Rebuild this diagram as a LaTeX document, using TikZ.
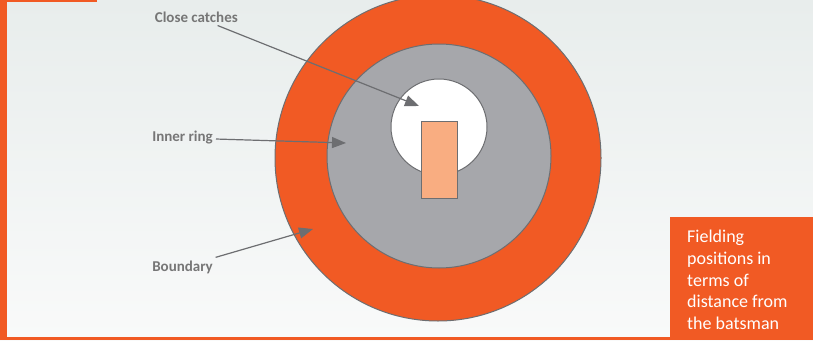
\documentclass[tikz,border=0pt]{standalone}
\usepackage{fontspec}
\usepackage{tikz}
\usetikzlibrary{arrows.meta,positioning}
\newfontfamily\fpfont{Carlito}
\definecolor{fporange}{HTML}{F15A24}
\definecolor{fpring}{HTML}{A6A7AB}
\definecolor{fpline}{HTML}{6D6E71}
\definecolor{fptext}{HTML}{767676}
\definecolor{fppitch}{HTML}{F9AD81}
\definecolor{fpbgtop}{HTML}{E8EDEC}
\definecolor{fpbgbot}{HTML}{F9FAFA}

\begin{document}
\begin{tikzpicture}[x=1pt,y=-1pt,
    fplabel/.style={font=\fpfont\bfseries\fontsize{15}{18}\selectfont,text=fptext,inner sep=3pt},
    fparrow/.style={draw=fpline,line width=1.2pt,-{Triangle[length=14pt,width=11pt]}},
    fpedge/.style={draw=fpline,line width=1pt}]
    \useasboundingbox (0,0) rectangle (813,340);
    \shade[top color=fpbgtop,bottom color=fpbgbot] (0,0) rectangle (813,340);
    % frame
    \fill[fporange] (0,0) rectangle (7,340);
    \fill[fporange] (0,0) rectangle (97,1.5);
    \fill[fporange] (0,337) rectangle (813,340);
    % rings
    \draw[fpedge,fill=fporange] (438,158) circle[radius=163pt];
    \draw[fpedge,fill=fpring] (439,156) circle[radius=112pt];
    \draw[fpedge,fill=white] (439,127) circle[radius=48pt];
    \draw[fpedge,fill=fppitch] (421,121) rectangle (457,198);
    % labels
    \foreach \lbl/\txt/\lx/\ly/\tx/\ty in {cc/Close catches/241/17/419/106,
        ir/Inner ring/216/138/346/143, bd/Boundary/216/267/313/229} {
      \node[fplabel,anchor=east] (\lbl) at (\lx,\ly) {\txt};
      \coordinate (\lbl tip) at (\tx,\ty);
      \draw[fparrow] (\lbl) -- (\lbl tip);
    }
    % caption box
    \node[fill=fporange,anchor=north west,minimum width=143pt,minimum height=123pt,inner sep=0pt] (info) at (670,217) {};
    \node[anchor=north west,align=left,inner sep=0pt,text=white,
      font=\fpfont\fontsize{18}{21.7}\selectfont] (infotext) at ([xshift=17pt,yshift=-13pt]info.north west)
      {Fielding\\positions in\\terms of\\distance from\\the batsman};
  \end{tikzpicture}
\end{document}
